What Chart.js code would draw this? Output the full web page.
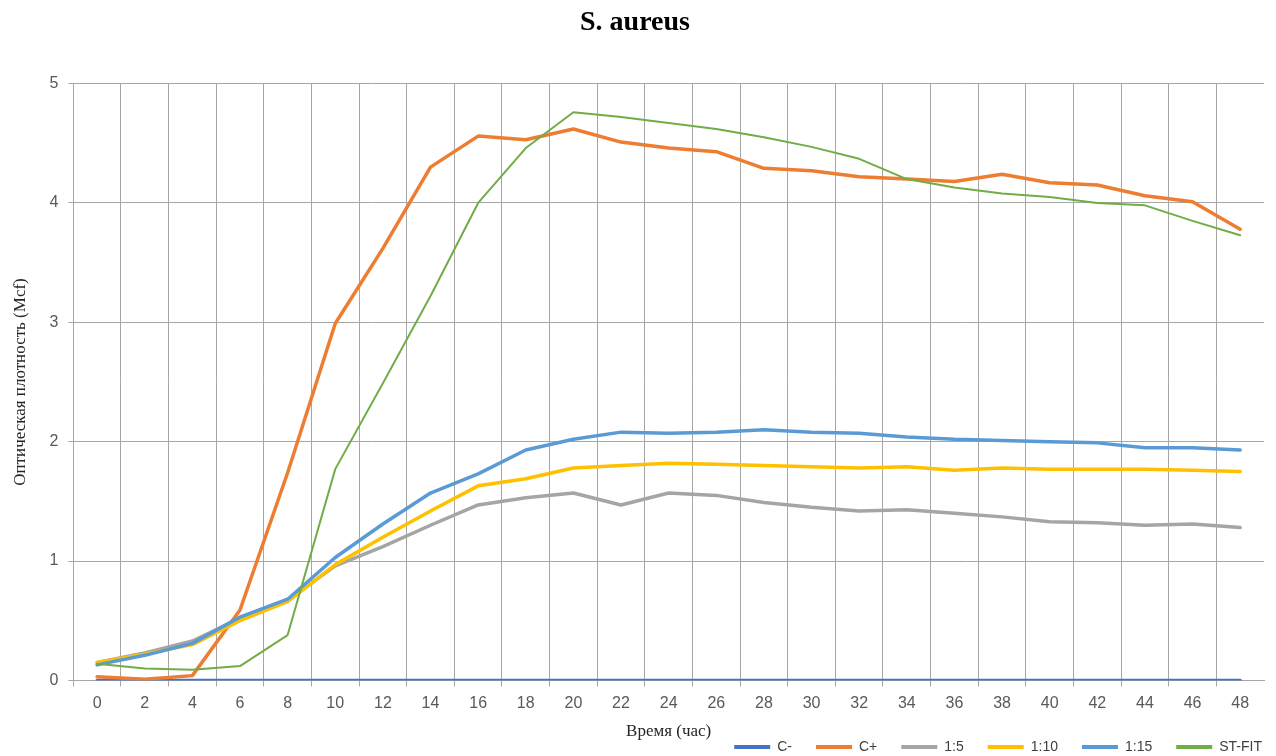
<!DOCTYPE html>
<html>
<head>
<meta charset="utf-8">
<script src="https://cdn.jsdelivr.net/npm/chart.js@4/dist/chart.umd.min.js"></script>
<style>
  html, body { margin: 0; padding: 0; background: #fff; }
  #wrap { width: 1276px; height: 756px; }
</style>
</head>
<body>
<div id="wrap"><canvas id="c" width="1276" height="756"></canvas></div>
<script>
const hours = [0,2,4,6,8,10,12,14,16,18,20,22,24,26,28,30,32,34,36,38,40,42,44,46,48];
const cMinus = [0,0,0,0,0,0,0,0,0,0,0,0,0,0,0,0,0,0,0,0,0,0,0,0,0];
const cPlus  = [0.03,0.01,0.04,0.59,1.74,2.99,3.62,4.30,4.56,4.53,4.62,4.51,4.46,4.43,4.29,4.27,4.22,4.20,4.18,4.24,4.17,4.15,4.06,4.01,3.78];
const r1_5   = [0.15,0.23,0.33,0.52,0.67,0.96,1.12,1.30,1.47,1.53,1.57,1.47,1.57,1.55,1.49,1.45,1.42,1.43,1.40,1.37,1.33,1.32,1.30,1.31,1.28];
const r1_10  = [0.15,0.22,0.30,0.50,0.66,0.97,1.20,1.42,1.63,1.69,1.78,1.80,1.82,1.81,1.80,1.79,1.78,1.79,1.76,1.78,1.77,1.77,1.77,1.76,1.75];
const r1_15  = [0.13,0.21,0.31,0.53,0.68,1.03,1.31,1.57,1.73,1.93,2.02,2.08,2.07,2.08,2.10,2.08,2.07,2.04,2.02,2.01,2.00,1.99,1.95,1.95,1.93];
const stFit  = [0.14,0.10,0.09,0.12,0.38,1.77,2.49,3.22,4.00,4.46,4.76,4.72,4.67,4.62,4.55,4.47,4.37,4.20,4.13,4.08,4.05,4.00,3.98,3.85,3.73];
const yTicks = [0,1,2,3,4,5];

const seriesNames = ['C-','C+','1:5','1:10','1:15','ST-FIT'];
const seriesData = [cMinus, cPlus, r1_5, r1_10, r1_15, stFit];
const seriesColors = ['#4472C4','#ED7D31','#A5A5A5','#FFC000','#5B9BD5','#70AD47'];
const seriesWidths = [3.5,3.5,3.5,3.5,3.5,2];

const gridColor = '#A6A6A6';

const datasets = seriesNames.map((n, i) => ({
  label: n,
  data: seriesData[i],
  borderColor: seriesColors[i],
  backgroundColor: seriesColors[i],
  borderWidth: seriesWidths[i],
  pointRadius: 0,
  pointHoverRadius: 0,
  tension: 0,
  fill: false,
  borderJoinStyle: 'round',
  borderCapStyle: 'round',
  order: seriesNames.length - 1 - i
}));

// shift the legend so it ends near the right edge like the original
const legendShift = {
  id: 'legendShift',
  afterLayout(chart) {
    if (chart.legend) { chart.legend.left += 22; chart.legend.right += 22; }
  }
};

new Chart(document.getElementById('c'), {
  type: 'line',
  data: { labels: hours.map(String), datasets },
  plugins: [legendShift],
  options: {
    responsive: false,
    animation: false,
    devicePixelRatio: 1,
    layout: { padding: { left: 6, right: 12, top: 4, bottom: -8 } },
    plugins: {
      title: {
        display: true,
        text: 'S. aureus',
        font: { family: '"Liberation Serif", "Times New Roman", serif', size: 28, weight: 'bold' },
        color: '#000',
        padding: { top: 2, bottom: 44 }
      },
      legend: {
        display: true,
        position: 'bottom',
        align: 'end',
        labels: {
          boxWidth: 36,
          boxHeight: 4,
          padding: 24,
          color: '#404040',
          font: { family: '"Liberation Sans", Arial, sans-serif', size: 14 },
          sort: (a, b) => a.datasetIndex - b.datasetIndex,
          generateLabels: (chart) => chart.data.datasets.map((d, i) => ({
            text: d.label,
            fillStyle: d.borderColor,
            strokeStyle: d.borderColor,
            lineWidth: 0,
            hidden: false,
            datasetIndex: i,
            fontColor: '#404040'
          }))
        }
      },
      tooltip: { enabled: false }
    },
    scales: {
      x: {
        type: 'category',
        offset: true,
        grid: {
          offset: true,
          color: (ctx) => (ctx.type === 'scale' || ctx.index === undefined ? 'rgba(0,0,0,0)' : gridColor),
          lineWidth: 1,
          drawTicks: true,
          tickLength: 6
        },
        border: { display: true, color: gridColor, width: 1 },
        ticks: {
          color: '#595959',
          font: { family: '"Liberation Sans", Arial, sans-serif', size: 16 },
          padding: 8,
          maxRotation: 0,
          autoSkip: false
        },
        title: {
          display: true,
          text: 'Время (час)',
          color: '#262626',
          font: { family: '"Liberation Serif", "Times New Roman", serif', size: 17 },
          padding: { top: 0, bottom: -26 }
        }
      },
      y: {
        min: 0,
        max: 5,
        afterBuildTicks: (scale) => { scale.ticks = yTicks.map(v => ({ value: v })); },
        grid: {
          color: gridColor,
          lineWidth: 1,
          drawTicks: true,
          tickLength: 5
        },
        border: { display: true, color: gridColor, width: 1 },
        ticks: {
          color: '#595959',
          font: { family: '"Liberation Sans", Arial, sans-serif', size: 16 },
          padding: 10,
          callback: (v) => String(v)
        },
        title: {
          display: true,
          text: 'Оптическая плотность (Mcf)',
          color: '#262626',
          font: { family: '"Liberation Serif", "Times New Roman", serif', size: 17 },
          padding: { top: 4, bottom: 9 }
        }
      }
    }
  }
});
</script>
</body>
</html>
